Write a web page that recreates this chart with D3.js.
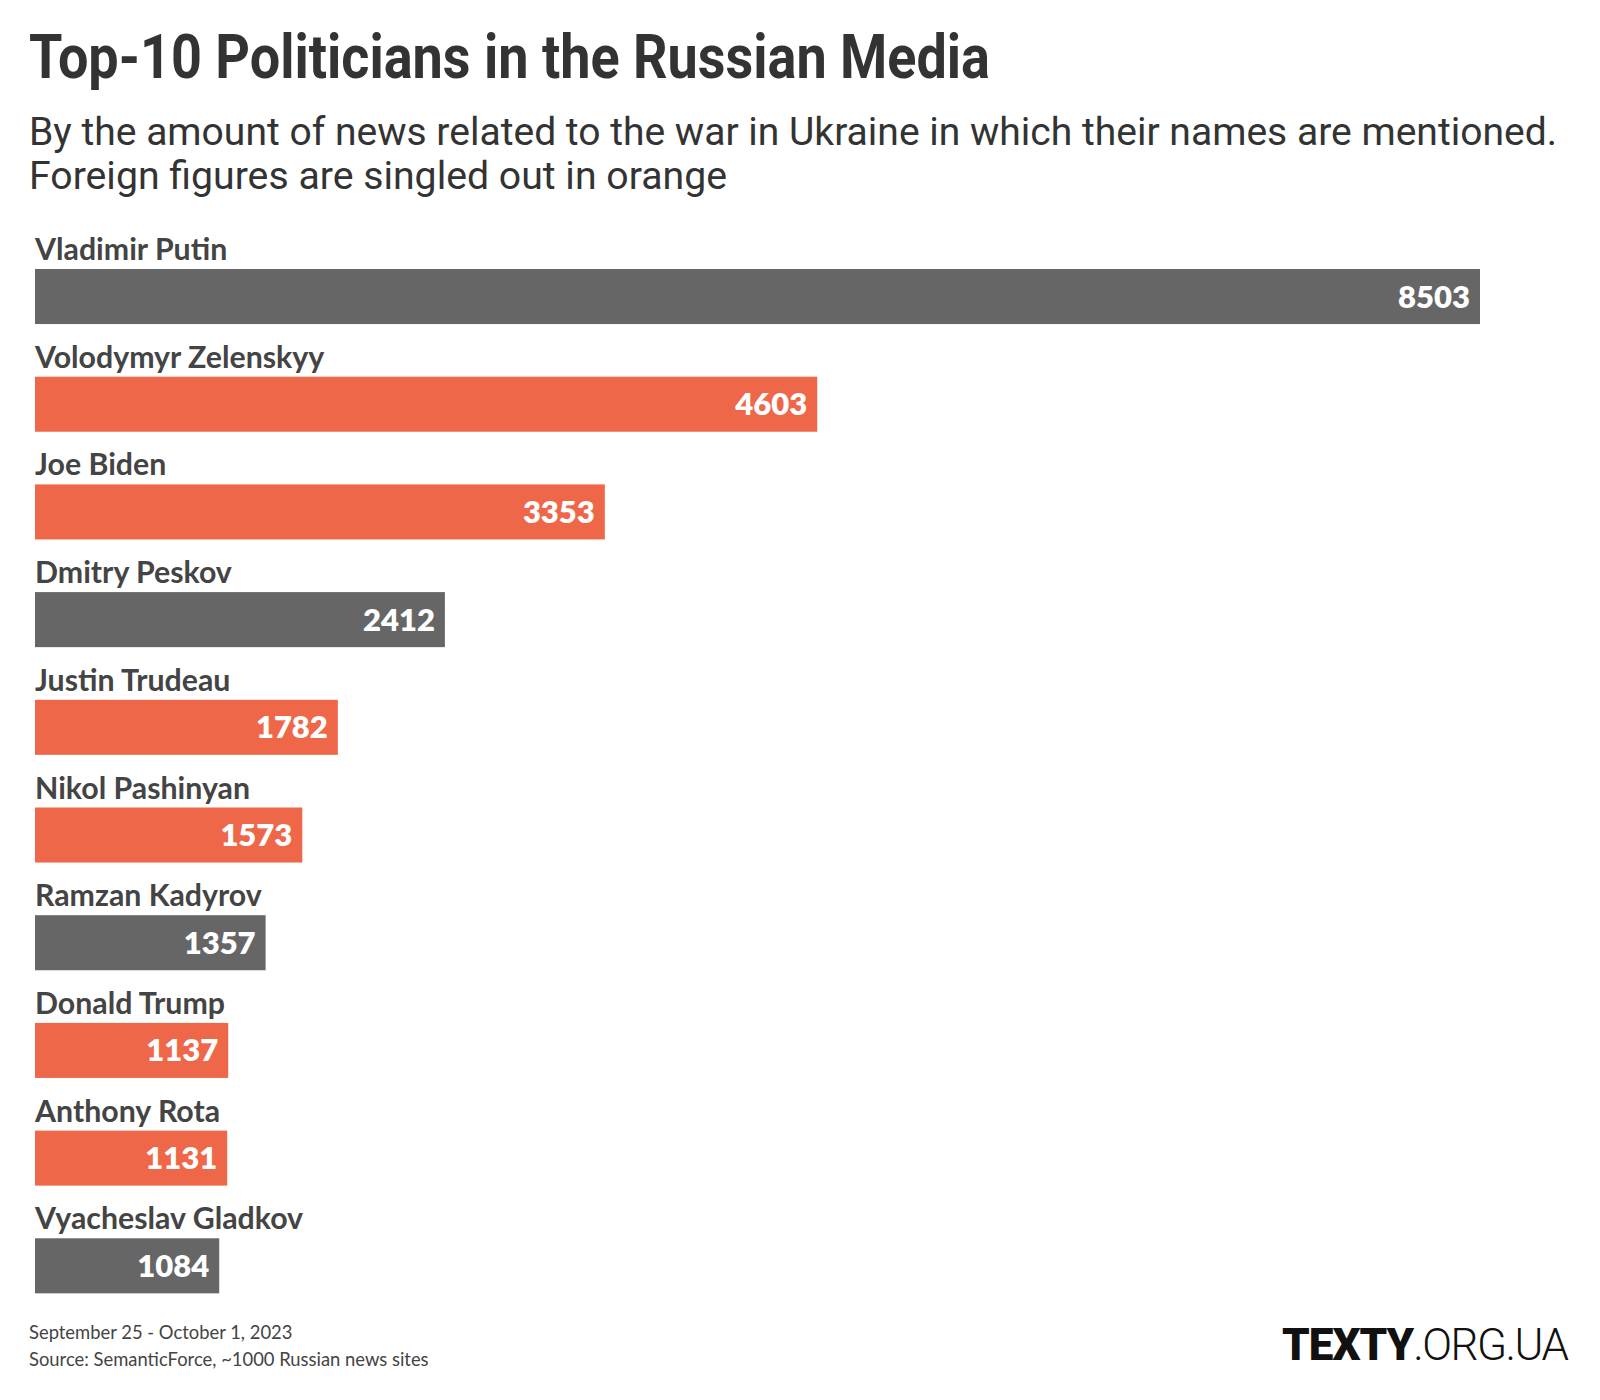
<!DOCTYPE html>
<html>
<head>
<meta charset="utf-8">
<script src="https://cdn.jsdelivr.net/npm/d3@7"></script>
<style>
  html, body { margin: 0; padding: 0; background: #fff; }
  svg { display: block; }
</style>
</head>
<body>
<script>
const names = ["Vladimir Putin", "Volodymyr Zelenskyy", "Joe Biden", "Dmitry Peskov", "Justin Trudeau",
               "Nikol Pashinyan", "Ramzan Kadyrov", "Donald Trump", "Anthony Rota", "Vyacheslav Gladkov"];
const values = [8503, 4603, 3353, 2412, 1782, 1573, 1357, 1137, 1131, 1084];
const foreign = [false, true, true, false, true, true, false, true, true, false];

const titleText = "Top-10 Politicians in the Russian Media";
const subtitleLines = ["By the amount of news related to the war in Ukraine in which their names are mentioned.",
                       "Foreign figures are singled out in orange"];
const footerLines = ["September 25 - October 1, 2023", "Source: SemanticForce, ~1000 Russian news sites"];

const W = 1600, H = 1400;
const GRAY = "#666666", ORANGE = "#EE6749";

const svg = d3.select("body").append("svg").attr("width", W).attr("height", H);
svg.append("rect").attr("width", W).attr("height", H).attr("fill", "#fff");

// Title
svg.append("text")
  .attr("x", 29).attr("y", 78)
  .attr("font-family", "Roboto, 'Liberation Sans', sans-serif")
  .attr("font-weight", 700).attr("font-size", 61)
  .attr("fill", "#333")
  .attr("textLength", 961).attr("lengthAdjust", "spacingAndGlyphs")
  .text(titleText);

// Subtitle
const subW = [1528, 698];
subtitleLines.forEach((t, i) => {
  svg.append("text")
    .attr("x", 29).attr("y", 145 + i * 44)
    .attr("font-family", "Roboto, 'Liberation Sans', sans-serif")
    .attr("font-weight", 400).attr("font-size", 38)
    .attr("fill", "#333")
    .attr("textLength", subW[i]).attr("lengthAdjust", "spacingAndGlyphs")
    .text(t);
});

// Scales
const data = names.map((n, i) => ({ name: n, value: values[i], foreign: foreign[i] }));
const x = d3.scaleLinear().domain([0, 8503]).range([35, 1480]);
const pInner = 0.489;
const step = 107.7;
const y = d3.scaleBand().domain(names)
  .range([269, 269 + step * (names.length - pInner)])
  .paddingInner(pInner).paddingOuter(0);

const g = svg.append("g");
const rows = g.selectAll("g.row").data(data).join("g").attr("class", "row");

rows.append("rect")
  .attr("x", x(0))
  .attr("y", d => y(d.name))
  .attr("width", d => x(d.value) - x(0))
  .attr("height", y.bandwidth())
  .attr("fill", d => d.foreign ? ORANGE : GRAY);

rows.append("text")
  .attr("x", x(0))
  .attr("y", d => y(d.name) - 9)
  .attr("font-family", "Lato, 'Open Sans', sans-serif")
  .attr("font-weight", 700).attr("font-size", 30.3)
  .attr("fill", "#444")
  .text(d => d.name);

rows.append("text")
  .attr("x", d => x(d.value) - 10)
  .attr("y", d => y(d.name) + y.bandwidth() / 2 + 11)
  .attr("text-anchor", "end")
  .attr("font-family", "Lato, 'Open Sans', sans-serif")
  .attr("font-weight", 800).attr("font-size", 31)
  .attr("fill", "#fff")
  .text(d => d.value);

// Footer
footerLines.forEach((t, i) => {
  svg.append("text")
    .attr("x", 29).attr("y", 1339 + i * 27)
    .attr("font-family", "Lato, 'Open Sans', sans-serif")
    .attr("font-size", 18.4)
    .attr("fill", "#444")
    .text(t);
});

// Logo
const logo = svg.append("text")
  .attr("x", 1282).attr("y", 1360)
  .attr("font-family", "Roboto, 'Liberation Sans', sans-serif")
  .attr("font-size", 44)
  .attr("fill", "#111");
logo.append("tspan").attr("font-weight", 900).attr("letter-spacing", -1).text("TEXTY");
logo.append("tspan").attr("font-weight", 300).attr("letter-spacing", -1.5).text(".ORG.UA");
</script>
</body>
</html>
